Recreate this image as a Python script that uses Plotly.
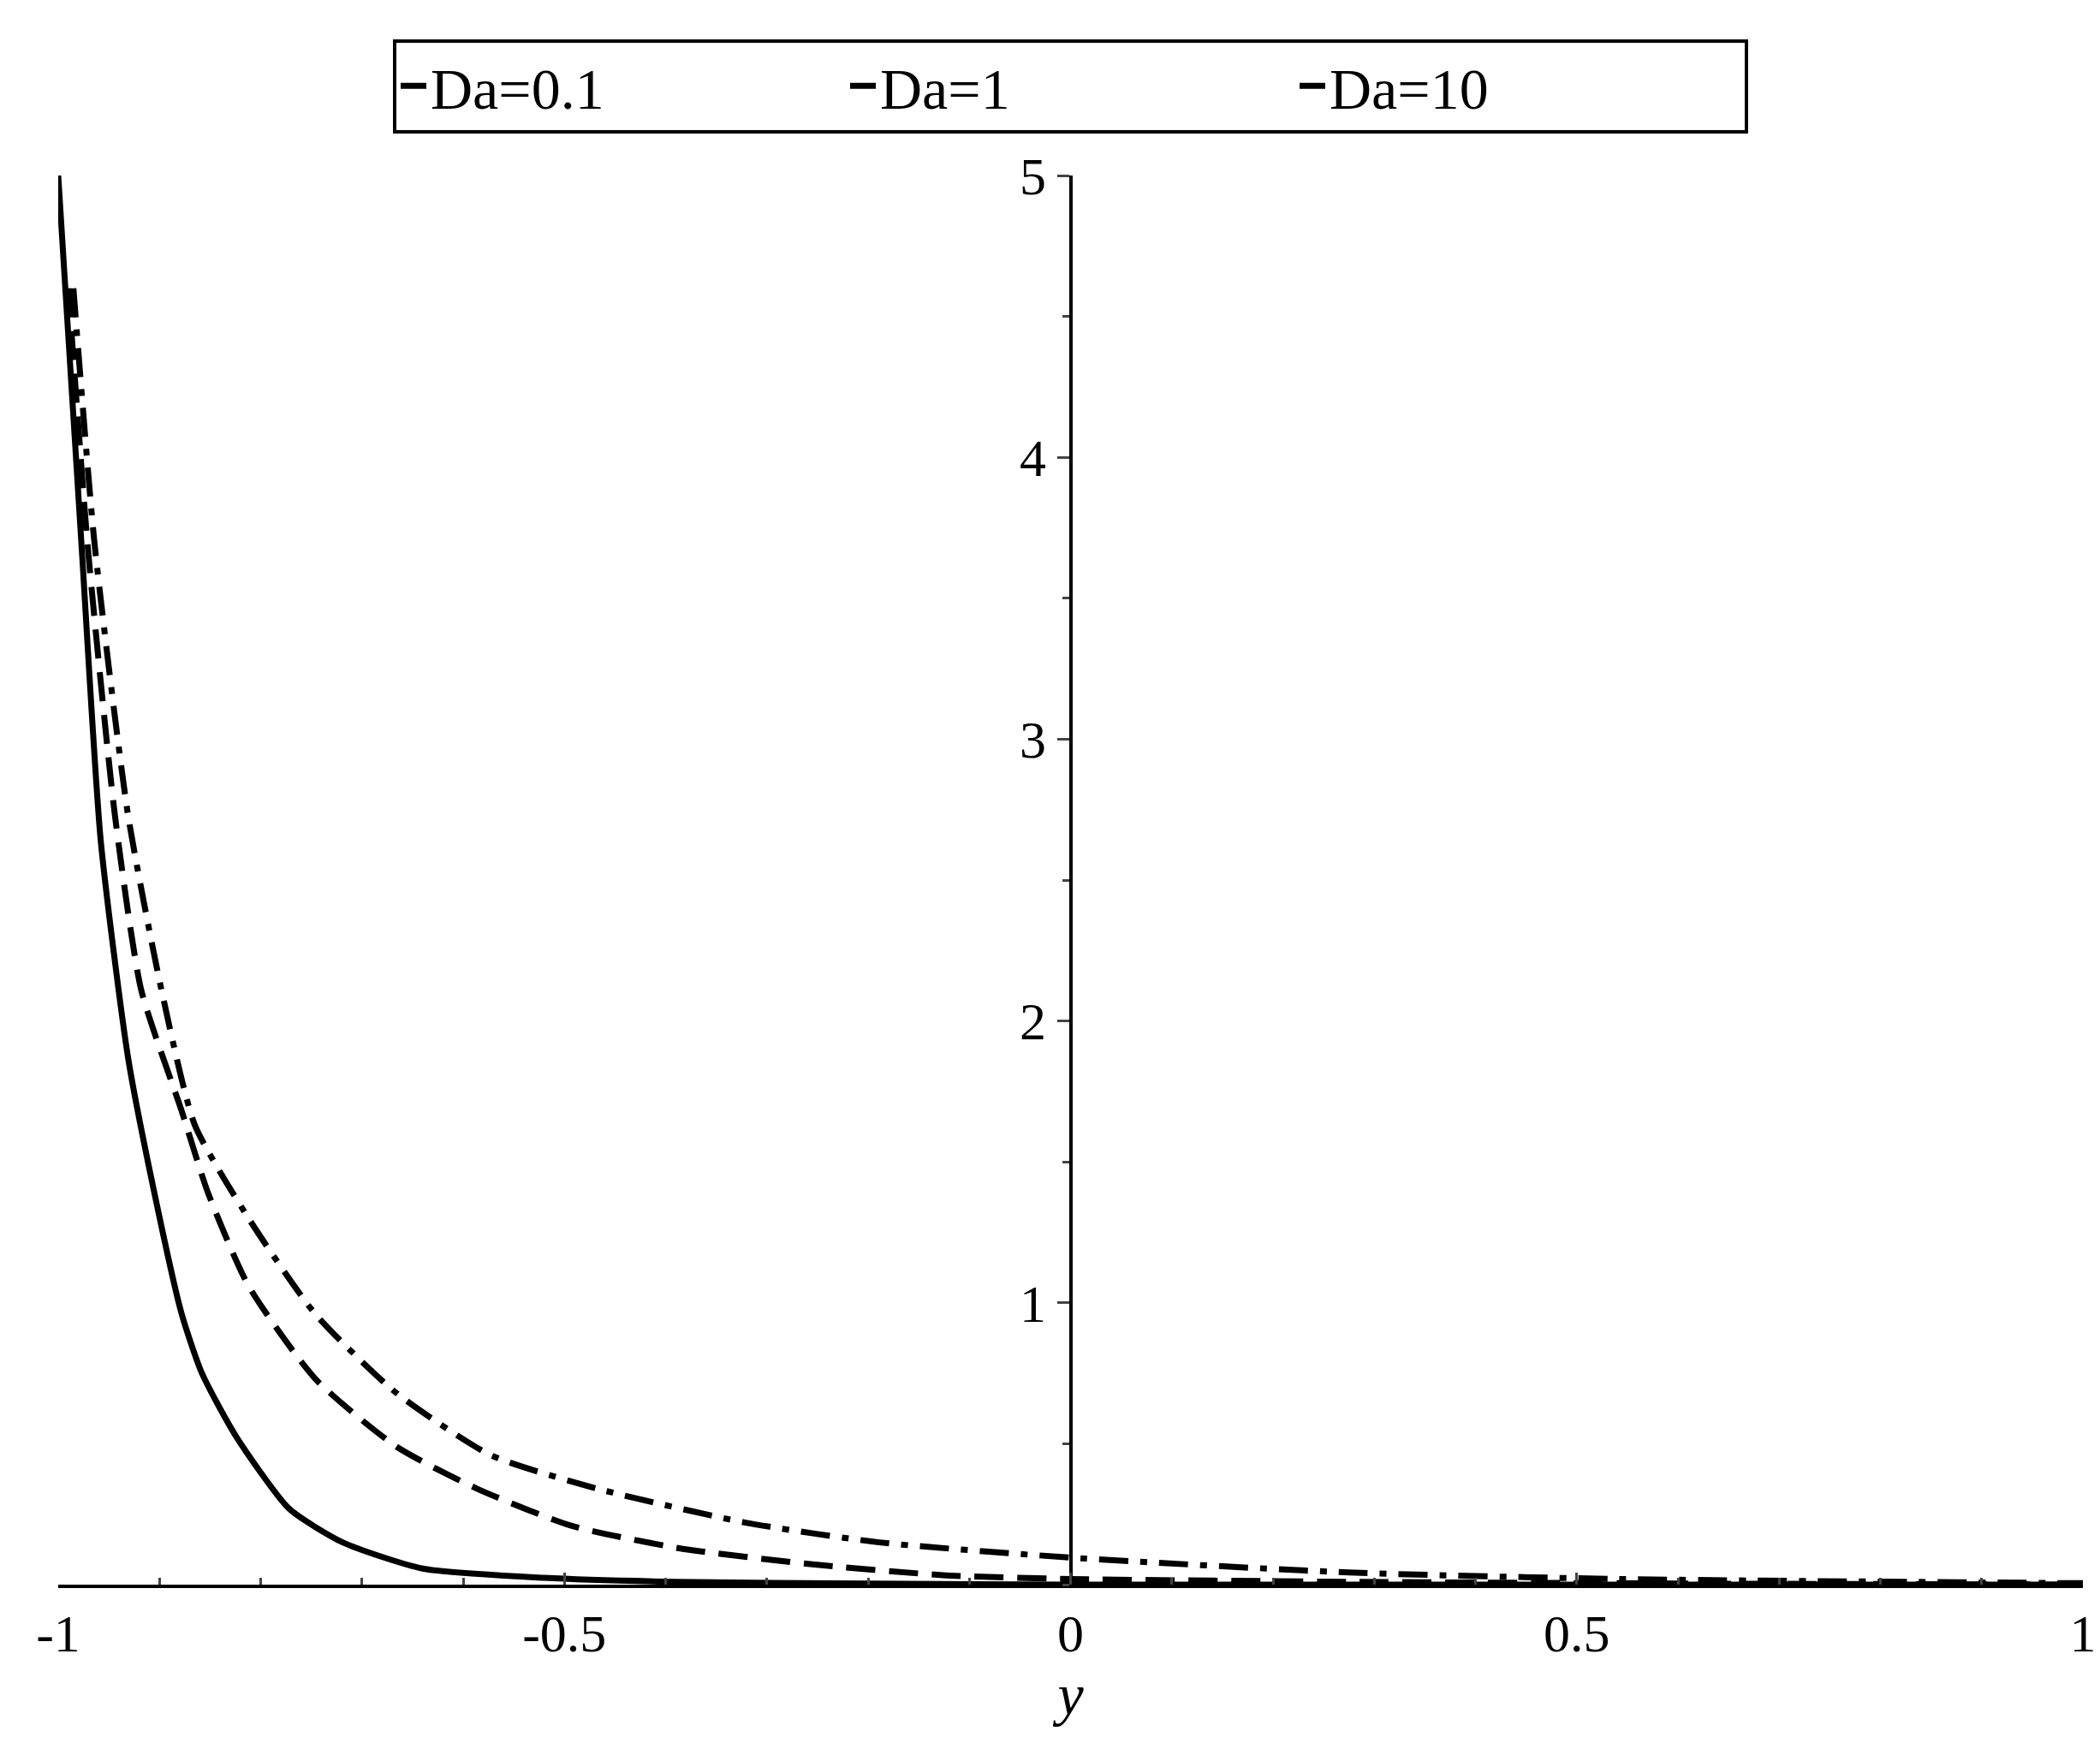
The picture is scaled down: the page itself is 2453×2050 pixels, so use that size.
import plotly.graph_objects as go

# values
y_da01 = [-1.0, -0.977, -0.958, -0.931, -0.905, -0.878, -0.858, -0.825, -0.772, -0.719, -0.64, -0.52, -0.39, -0.2, 0.0, 0.5, 1.0]
v_da01 = [5.0, 3.69, 2.64, 1.87, 1.39, 0.96, 0.75, 0.53, 0.27, 0.15, 0.057, 0.024, 0.01, 0.004, 0.0, 0.0, 0.0]

y_da1 = [-0.99, -0.971, -0.944, -0.918, -0.878, -0.852, -0.812, -0.746, -0.666, -0.586, -0.494, -0.388, -0.255, -0.123, 0.0, 0.275, 0.6, 1.0]
v_da1 = [4.6, 3.69, 2.73, 2.11, 1.68, 1.39, 1.06, 0.73, 0.49, 0.34, 0.21, 0.13, 0.072, 0.033, 0.02, 0.01, 0.004, 0.0]

y_da10 = [-0.985, -0.964, -0.931, -0.898, -0.865, -0.812, -0.746, -0.666, -0.573, -0.467, -0.321, -0.189, 0.0, 0.275, 0.54, 1.0]
v_da10 = [4.6, 3.69, 2.73, 2.11, 1.63, 1.3, 0.96, 0.68, 0.46, 0.34, 0.22, 0.15, 0.096, 0.043, 0.02, 0.005]

font = "Liberation Serif"

fig = go.Figure()
fig.add_trace(go.Scatter(x=y_da01, y=v_da01, mode="lines", name="Da=0.1",
                         line=dict(color="black", width=7, shape="spline", smoothing=0.6)))
fig.add_trace(go.Scatter(x=y_da1, y=v_da1, mode="lines", name="Da=1",
                         line=dict(color="black", width=7, dash="34px,16px", shape="spline", smoothing=0.6)))
fig.add_trace(go.Scatter(x=y_da10, y=v_da10, mode="lines", name="Da=10",
                         line=dict(color="black", width=7, dash="34px,14px,8px,14px", shape="spline", smoothing=0.6)))

fig.update_layout(
    width=2453, height=2050,
    plot_bgcolor="white", paper_bgcolor="white",
    margin=dict(l=60, r=20, t=197, b=207),
    font=dict(family=font, size=62, color="black"),
    showlegend=True,
    legend=dict(orientation="h", x=0.5, xanchor="center", y=1.03, yanchor="bottom",
                bordercolor="black", borderwidth=4, font=dict(size=68, family=font),
                entrywidth=480, entrywidthmode="pixels"),
    xaxis=dict(range=[-1, 1], showgrid=False, zeroline=False, showline=True,
               linecolor="black", linewidth=4, ticks="inside", ticklen=14, tickwidth=3,
               tickvals=[-1, -0.5, 0, 0.5, 1], ticktext=["-1", "-0.5", "0", "0.5", "1"],
               minor=dict(dtick=0.1, ticks="inside", ticklen=8, tickwidth=3),
               title=dict(text="<i>y</i>", font=dict(size=68, family=font), standoff=5)),
    yaxis=dict(range=[0, 5], showgrid=False, zeroline=False, showline=True,
               linecolor="black", linewidth=4, anchor="free", position=0.5,
               ticks="outside", ticklen=14, tickwidth=3, tickvals=[1, 2, 3, 4, 5],
               minor=dict(dtick=0.5, ticks="outside", ticklen=8, tickwidth=3)),
)

fig.write_html("out.html")
